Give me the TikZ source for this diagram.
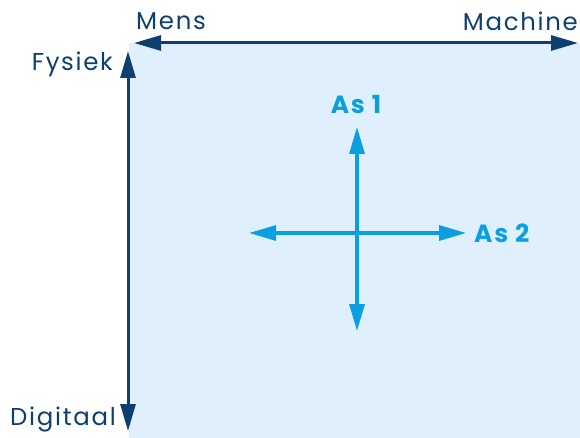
\documentclass[tikz,border=0pt]{standalone}
\usepackage{fontspec}
\setmainfont[LetterSpace=7]{Poppins}
\usetikzlibrary{arrows.meta}

\definecolor{vlak}{HTML}{DFF0FC}
\definecolor{donker}{HTML}{0E3F6E}
\definecolor{licht}{HTML}{0B9FE2}

\tikzset{
	asdonker/.style={donker, line width=3bp, {Triangle[length=27bp,width=15bp]}-{Triangle[length=27bp,width=15bp]}},
	aslicht/.style={licht, line width=3.2bp, {Triangle[length=27bp,width=15bp]}-{Triangle[length=27bp,width=15bp]}},
	labdonker/.style={donker, font=\fontsize{24.5}{28}\selectfont, inner sep=0pt},
	lablicht/.style={licht, font=\bfseries\fontsize{25}{28}\selectfont, inner sep=0pt}
}

\begin{document}
\begin{tikzpicture}[x=1bp, y=-1bp]
	\useasboundingbox (0, 0) rectangle (580, 438);
	\fill[vlak] (129, 43) rectangle (580, 438);

	% hoofdassen
	\coordinate (mens) at (134, 43);
	\coordinate (machine) at (578, 43);
	\coordinate (fysiek) at (128, 51);
	\coordinate (digitaal) at (128, 431);
	\draw[asdonker] (mens) -- (machine);
	\draw[asdonker] (fysiek) -- (digitaal);

	\node[labdonker, anchor=west] at (136, 21) (lmens) {Mens};
	\node[labdonker, anchor=east] at (578, 21) (lmachine) {Machine};
	\node[labdonker, anchor=east] at (113, 64) (lfysiek) {Fysiek};
	\node[labdonker, anchor=east] at (116, 420) (ldigitaal) {Digitaal};

	% kruis in het midden
	\coordinate (boven) at (357, 127);
	\coordinate (onder) at (357, 331);
	\coordinate (links) at (249, 233);
	\coordinate (rechts) at (466, 233);
	\draw[aslicht] (boven) -- (onder);
	\draw[aslicht] (links) -- (rechts);

	\node[lablicht] at (356, 105) (as1) {As 1};
	\node[lablicht, anchor=west] at (474, 233) (as2) {As 2};
\end{tikzpicture}
\end{document}
